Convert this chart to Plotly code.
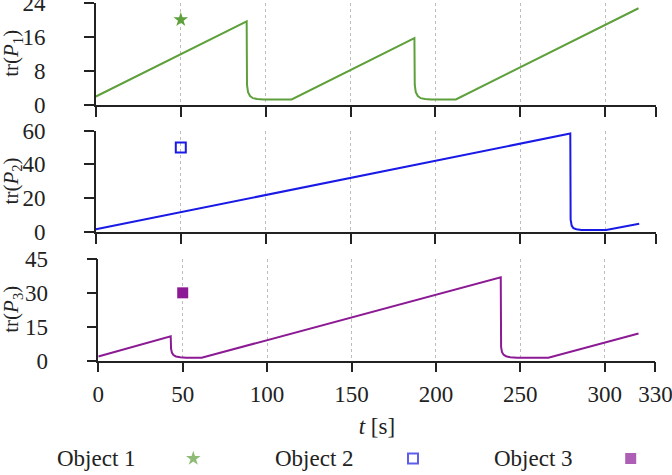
import plotly.graph_objects as go

# ---------------- data ----------------
T_TICKS = [0, 50, 100, 150, 200, 250, 300, 330]

OBJ1_T = [0, 88.8, 89.0, 89.6, 90.8, 92.5, 95.0, 98.6, 115.3,
          187.6, 187.8, 188.4, 189.6, 191.3, 193.8, 197.4, 212.0, 319.6]
OBJ1_V = [2.0, 19.6, 4.7, 3.0, 2.1, 1.6, 1.4, 1.3, 1.3,
          15.7, 4.7, 3.0, 2.1, 1.6, 1.4, 1.3, 1.3, 22.7]

OBJ2_T = [0, 279.4, 279.6, 280.2, 281.2, 283.0, 286.0, 300.5, 320.0]
OBJ2_V = [1.8, 58.2, 7.5, 4.0, 2.5, 1.8, 1.4, 1.3, 5.0]

OBJ3_T = [0, 42.9, 43.1, 43.6, 44.5, 46.0, 48.5, 52.0, 61.2,
          238.4, 238.6, 239.1, 240.0, 241.5, 244.0, 248.0, 266.6, 320.0]
OBJ3_V = [1.8, 10.7, 5.2, 3.5, 2.4, 1.8, 1.4, 1.2, 1.2,
          36.9, 6.0, 3.8, 2.6, 1.9, 1.4, 1.2, 1.2, 12.0]

MARK_T = [50, 50, 50]
MARK_V = [20, 50, 30]

Y1_TICKS = [0, 8, 16, 24]
Y2_TICKS = [0, 20, 40, 60]
Y3_TICKS = [0, 15, 30, 45]

LEGEND_LABELS = ["Object 1", "Object 2", "Object 3"]
Y_TITLES = ["tr(<i>P</i><sub>1</sub>)", "tr(<i>P</i><sub>2</sub>)", "tr(<i>P</i><sub>3</sub>)"]

# ---------------- style ----------------
W, H = 672, 475
FONT = "Liberation Serif"
FS = 23
GREEN = "#5ea03c"
BLUE = "#1a1ae6"
PURPLE = "#8c1a94"
AX = "#222222"

fig = go.Figure()

# lines
fig.add_trace(go.Scatter(x=OBJ1_T, y=OBJ1_V, mode="lines", line=dict(color=GREEN, width=2),
                         xaxis="x", yaxis="y", showlegend=False))
fig.add_trace(go.Scatter(x=OBJ2_T, y=OBJ2_V, mode="lines", line=dict(color=BLUE, width=2),
                         xaxis="x2", yaxis="y2", showlegend=False))
fig.add_trace(go.Scatter(x=OBJ3_T, y=OBJ3_V, mode="lines", line=dict(color=PURPLE, width=2),
                         xaxis="x3", yaxis="y3", showlegend=False))

# markers
sym = [dict(symbol="star", size=11, color=GREEN, line=dict(width=0)),
       dict(symbol="square-open", size=10, color=BLUE, line=dict(width=2, color=BLUE)),
       dict(symbol="square", size=11, color=PURPLE, line=dict(width=0))]
for i, (xa, ya) in enumerate([("x", "y"), ("x2", "y2"), ("x3", "y3")]):
    fig.add_trace(go.Scatter(x=[MARK_T[i]], y=[MARK_V[i]], mode="markers", marker=sym[i],
                             xaxis=xa, yaxis=ya, showlegend=False, cliponaxis=False))

# custom legend (text then symbol) on a hidden axis in pixel-like units
LEG_TEXT_X = [96.3, 314.8, 533.0]
LEG_SYM_X = [193.3, 413.0, 630.7]
LEG_Y = 16.5
fig.add_trace(go.Scatter(x=LEG_SYM_X, y=[LEG_Y] * 3, mode="markers",
                         marker=dict(symbol=[s["symbol"] for s in sym],
                                     size=[s["size"] for s in sym],
                                     color=[GREEN, BLUE, PURPLE],
                                     line=dict(width=[0, 2, 0], color=[GREEN, BLUE, PURPLE])),
                         xaxis="x4", yaxis="y4", showlegend=False, cliponaxis=False))

annotations = []
for i, lab in enumerate(LEGEND_LABELS):
    annotations.append(dict(text=lab, x=LEG_TEXT_X[i], y=LEG_Y, xref="x4", yref="y4",
                            showarrow=False, xanchor="center", yanchor="middle",
                            font=dict(family=FONT, size=FS, color="#222")))

# y titles as annotations
panel_px = [(2.7, 105.0), (130.5, 232.3), (259.0, 360.5)]
for i, (top, bot) in enumerate(panel_px):
    annotations.append(dict(text=Y_TITLES[i], x=12 / W, y=1 - ((top + bot) / 2) / H,
                            xref="paper", yref="paper", showarrow=False, textangle=-90,
                            xanchor="center", yanchor="middle",
                            font=dict(family=FONT, size=21, color="#222")))

def ydom(top, bot):
    return [1 - bot / H, 1 - top / H]

xd12 = [95.9 / W, 656.2 / W]
xd3 = [98.3 / W, 655.4 / W]

def xax(domain, anchor, labels):
    return dict(domain=domain, anchor=anchor, range=[0, 330], tickvals=T_TICKS,
                ticktext=[str(v) for v in T_TICKS], showticklabels=labels,
                ticks="outside", ticklen=10, tickwidth=1.5, tickcolor=AX,
                showline=True, linecolor=AX, linewidth=1.5, mirror=False,
                showgrid=True, gridcolor="#bdbdbd", griddash="dot", gridwidth=1,
                zeroline=False, ticklabelstandoff=2, automargin=False,
                ticklabeloverflow="allow",
                tickfont=dict(family=FONT, size=FS, color="#222"))

def yax(domain, anchor, rng, ticks):
    return dict(domain=domain, anchor=anchor, range=rng, tickvals=ticks,
                ticks="outside", ticklen=10, tickwidth=1.5, tickcolor=AX,
                showline=True, linecolor=AX, linewidth=1.5, mirror=False,
                showgrid=False, zeroline=False, ticklabelstandoff=34, automargin=False,
                ticklabeloverflow="allow",
                tickfont=dict(family=FONT, size=FS, color="#222"))

x3 = xax(xd3, "y3", True)
x3["title"] = dict(text="<i>t</i> [s]", standoff=12, font=dict(family=FONT, size=FS, color="#222"))

fig.update_layout(
    width=W, height=H,
    margin=dict(l=0, r=0, t=0, b=0, autoexpand=False),
    paper_bgcolor="white", plot_bgcolor="white",
    showlegend=False,
    xaxis=xax(xd12, "y", False),
    xaxis2=xax(xd12, "y2", False),
    xaxis3=x3,
    yaxis=yax(ydom(*panel_px[0]), "x", [0, 24], Y1_TICKS),
    yaxis2=yax(ydom(*panel_px[1]), "x2", [0, 60], Y2_TICKS),
    yaxis3=yax(ydom(*panel_px[2]), "x3", [0, 45], Y3_TICKS),
    xaxis4=dict(domain=[0, 1], anchor="y4", range=[0, W], visible=False, fixedrange=True,
                automargin=False),
    yaxis4=dict(domain=[0, 47.5 / H], anchor="x4", range=[0, 47.5], visible=False,
                fixedrange=True, automargin=False),
    annotations=annotations,
)

fig.write_html("out.html")
